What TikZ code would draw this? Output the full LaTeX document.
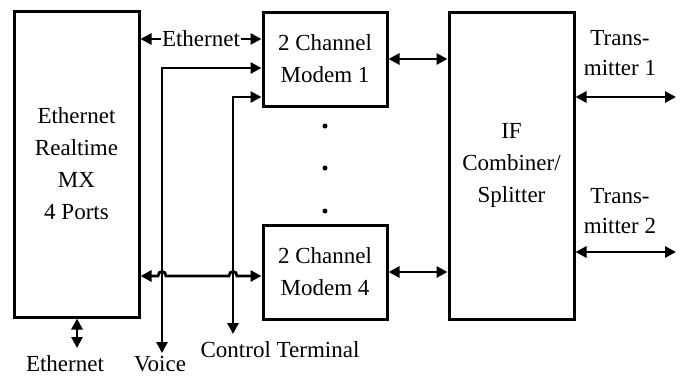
\documentclass[tikz,border=0pt]{standalone}
\usepackage{fontspec}
\setmainfont{Liberation Serif}
\usetikzlibrary{arrows.meta}
\begin{document}
\begin{tikzpicture}[x=1pt,y=-1pt,
  blk/.style={draw,line width=3pt,align=center,inner sep=0pt,
    font=\fontsize{23}{32}\selectfont},
  lbl/.style={align=center,inner sep=0pt,font=\fontsize{23}{30}\selectfont},
  con/.style={line width=2.8pt,{Triangle[length=11pt,width=11pt]}-{Triangle[length=11pt,width=11pt]}},
  dotc/.style={circle,fill,inner sep=0pt,minimum size=5pt}]
\useasboundingbox (0,0) rectangle (683,378);
\node[blk,minimum width=125pt,minimum height=306pt] (mx) at (76.5,164) {Ethernet\\Realtime\\MX\\4 Ports};
\node[blk,minimum width=124pt,minimum height=94pt] (m1) at (325,59) {2 Channel\\Modem 1};
\node[blk,minimum width=124pt,minimum height=94pt] (m4) at (325,272) {2 Channel\\Modem 4};
\node[blk,minimum width=125pt,minimum height=307pt] (if) at (511.5,165.5) {IF\\Combiner/\\Splitter};
\node[dotc] (d1) at (325,126) {};
\node[dotc] (d2) at (325,168) {};
\node[dotc] (d3) at (325,211) {};
% top Ethernet
\draw[con] (mx.east |- 0,39) -- node[fill=white,inner sep=1pt,font=\fontsize{23}{30}\selectfont] (eth1) {Ethernet} (m1.west |- 0,39);
% bottom labels
\node[lbl] (voice) at (160,364) {Voice};
\node[lbl] (ctrl) at (280,350) {Control Terminal};
\node[lbl] (eth2) at (65,364) {Ethernet};
\coordinate (vb) at (162,353);
\coordinate (cb) at (233,334);
\draw[con] (vb) -- (162,68) -- (m1.west |- 0,68);
\draw[con] (cb) -- (233,97) -- (m1.west |- 0,97);
% bottom bus with hops
\draw[con] (mx.east |- 0,276) -- (158,276) .. controls (158,270) and (166,270) .. (166,276)
  -- (229,276) .. controls (229,270) and (237,270) .. (237,276) -- (m4.west |- 0,276);
% Ethernet below MX
\coordinate (eb) at (77,348);
\draw[con] (mx.south -| eb) -- (eb);
% modems to IF
\draw[con] (m1.east |- 0,59) -- (if.west |- 0,59);
\draw[con] (m4.east |- 0,272) -- (if.west |- 0,272);
% transmitters
\node[lbl] (t1) at (620,53) {Trans-\\mitter 1};
\node[lbl] (t2) at (620,211) {Trans-\\mitter 2};
\coordinate (t1e) at (676,97);
\coordinate (t2e) at (676,252);
\draw[con] (if.east |- t1e) -- (t1e);
\draw[con] (if.east |- t2e) -- (t2e);
\end{tikzpicture}
\end{document}
